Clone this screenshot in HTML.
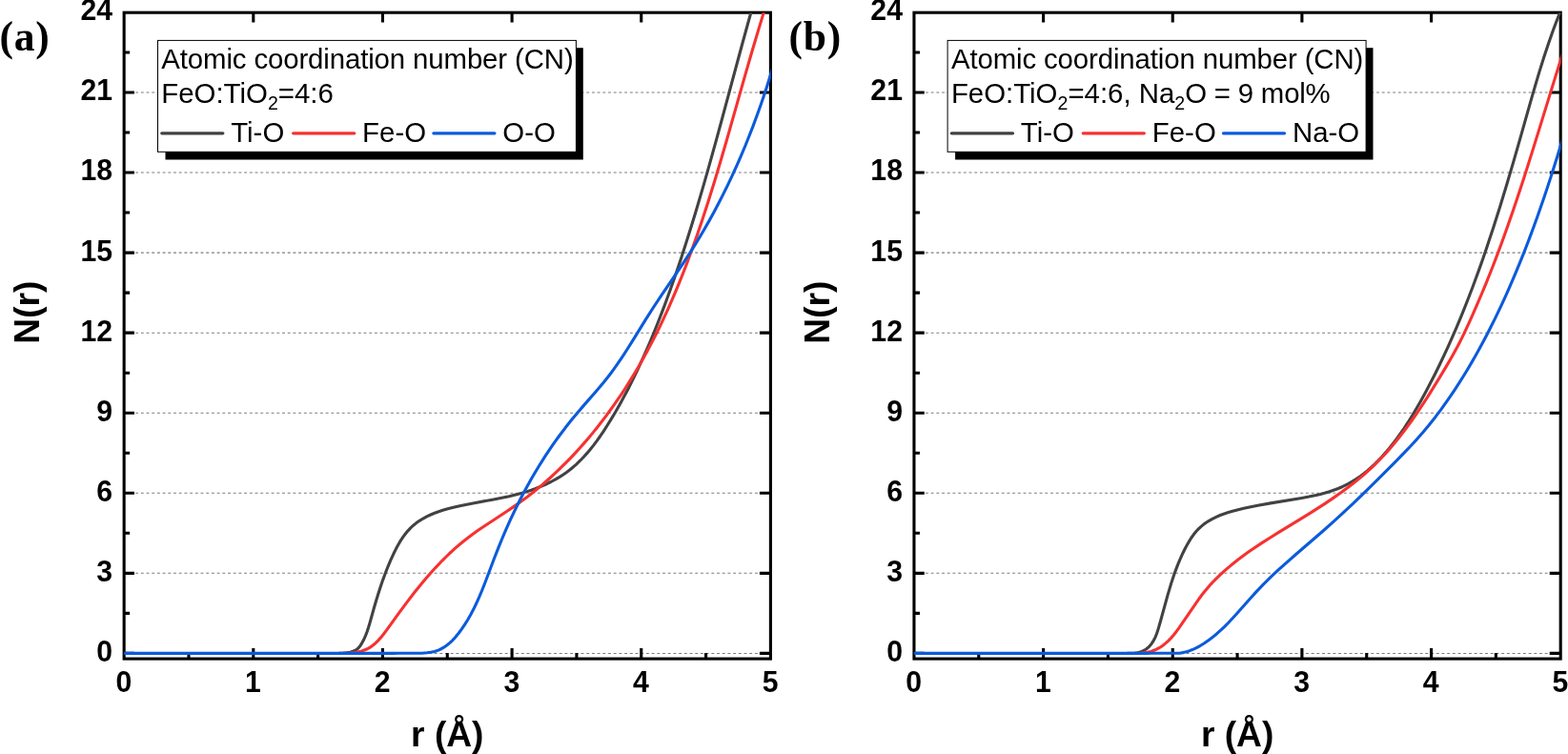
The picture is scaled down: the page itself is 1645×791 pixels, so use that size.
<!DOCTYPE html>
<html><head><meta charset="utf-8"><title>Atomic coordination number</title>
<style>
html,body{margin:0;padding:0;background:#fff;}
body{width:1645px;height:791px;overflow:hidden;}
svg{display:block;}
text{font-family:"Liberation Sans",sans-serif;fill:#000;}
.tk{font-size:30.2px;font-weight:bold;}
.ti{font-size:37.2px;font-weight:bold;}
.lg{font-size:29.4px;}
.pl{font-family:"Liberation Serif",serif;font-weight:bold;font-size:43.5px;}
</style></head><body>
<svg width="1645" height="791" viewBox="0 0 1645 791">
<rect width="1645" height="791" fill="#fff"/>

<g id="panel-a">
<line x1="130.15" x2="808.4" y1="685.40" y2="685.40" stroke="#7c7c7c" stroke-width="1.05" stroke-dasharray="2.9 2.8" stroke-dashoffset="-0.6"/>
<line x1="130.15" x2="808.4" y1="601.34" y2="601.34" stroke="#7c7c7c" stroke-width="1.05" stroke-dasharray="2.9 2.8" stroke-dashoffset="-0.6"/>
<line x1="130.15" x2="808.4" y1="517.28" y2="517.28" stroke="#7c7c7c" stroke-width="1.05" stroke-dasharray="2.9 2.8" stroke-dashoffset="-0.6"/>
<line x1="130.15" x2="808.4" y1="433.22" y2="433.22" stroke="#7c7c7c" stroke-width="1.05" stroke-dasharray="2.9 2.8" stroke-dashoffset="-0.6"/>
<line x1="130.15" x2="808.4" y1="349.16" y2="349.16" stroke="#7c7c7c" stroke-width="1.05" stroke-dasharray="2.9 2.8" stroke-dashoffset="-0.6"/>
<line x1="130.15" x2="808.4" y1="265.10" y2="265.10" stroke="#7c7c7c" stroke-width="1.05" stroke-dasharray="2.9 2.8" stroke-dashoffset="-0.6"/>
<line x1="130.15" x2="808.4" y1="181.04" y2="181.04" stroke="#7c7c7c" stroke-width="1.05" stroke-dasharray="2.9 2.8" stroke-dashoffset="-0.6"/>
<line x1="130.15" x2="808.4" y1="96.98" y2="96.98" stroke="#7c7c7c" stroke-width="1.05" stroke-dasharray="2.9 2.8" stroke-dashoffset="-0.6"/>
<rect x="173.5" y="50.2" width="438.3" height="117.3" fill="#000"/>
<rect x="165.5" y="42.4" width="438.9" height="116.9" fill="#fff" stroke="#000" stroke-width="1"/>
<text class="lg" letter-spacing="-0.123" transform="translate(169.3,72.4) scale(1,1.035)">Atomic coordination number (CN)</text>
<text class="lg" letter-spacing="0" transform="translate(169.3,108) scale(1,1.035)">FeO:TiO<tspan dy="7.2" font-size="19.6">2</tspan><tspan dy="-7.2">=4:6</tspan></text>
<line x1="169.8" x2="233.8" y1="139.85" y2="139.85" stroke="#424242" stroke-width="3.3" stroke-linecap="round"/>
<text class="lg" transform="translate(242.2,148.6) scale(1,1.035)">Ti-O</text>
<line x1="307.7" x2="371.7" y1="139.85" y2="139.85" stroke="#f73131" stroke-width="3.3" stroke-linecap="round"/>
<text class="lg" transform="translate(380.1,148.6) scale(1,1.035)">Fe-O</text>
<line x1="454.9" x2="518.9" y1="139.85" y2="139.85" stroke="#0b5bdc" stroke-width="3.3" stroke-linecap="round"/>
<text class="lg" transform="translate(527.3,148.6) scale(1,1.035)">O-O</text>
<path d="M130.15,685.40h10.8 M808.4,685.40h-11.5 M130.15,643.37h6 M130.15,601.34h10.8 M808.4,601.34h-11.5 M130.15,559.31h6 M130.15,517.28h10.8 M808.4,517.28h-11.5 M130.15,475.25h6 M130.15,433.22h10.8 M808.4,433.22h-11.5 M130.15,391.19h6 M130.15,349.16h10.8 M808.4,349.16h-11.5 M130.15,307.13h6 M130.15,265.10h10.8 M808.4,265.10h-11.5 M130.15,223.07h6 M130.15,181.04h10.8 M808.4,181.04h-11.5 M130.15,139.01h6 M130.15,96.98h10.8 M808.4,96.98h-11.5 M130.15,54.95h6 M197.98,691.1v-6 M265.80,691.1v-11 M265.80,13.2v10.4 M333.62,691.1v-6 M401.45,691.1v-11 M401.45,13.2v10.4 M469.27,691.1v-6 M537.10,691.1v-11 M537.10,13.2v10.4 M604.93,691.1v-6 M672.75,691.1v-11 M672.75,13.2v10.4 M740.58,691.1v-6" stroke="#000" stroke-width="3.1" fill="none"/>
<rect x="130.15" y="13.2" width="678.25" height="677.9" fill="none" stroke="#000" stroke-width="3.1"/>
<clipPath id="clip-a"><rect x="130.15" y="13.2" width="678.65" height="677.9"/></clipPath>
<g clip-path="url(#clip-a)" fill="none" stroke-width="3.1" stroke-linejoin="round" stroke-linecap="round">
<path d="M355.44,685.34 L359.91,685.15 L362.89,684.90 L364.38,684.71 L367.32,684.16 L368.77,683.78 L370.20,683.31 L371.59,682.76 L372.92,682.10 L374.17,681.34 L375.33,680.46 L376.37,679.44 L377.30,678.32 L378.15,677.11 L379.70,674.60 L381.12,672.01 L382.40,669.35 L383.58,666.63 L385.17,662.45 L386.13,659.61 L387.46,655.31 L392.32,638.04 L394.81,629.54 L396.96,622.51 L398.75,616.93 L401.59,608.60 L404.12,601.69 L406.82,594.79 L409.72,587.90 L412.85,581.02 L415.56,575.57 L418.48,570.25 L420.03,567.65 L421.66,565.12 L423.35,562.65 L425.13,560.26 L427.95,556.83 L430.97,553.63 L434.21,550.68 L436.49,548.85 L440.07,546.32 L443.83,544.01 L447.74,541.92 L451.79,540.02 L455.94,538.30 L460.18,536.74 L464.48,535.33 L468.82,534.05 L474.63,532.50 L478.98,531.45 L484.77,530.16 L494.88,528.15 L516.57,524.24 L525.29,522.56 L534.05,520.68 L542.80,518.53 L548.61,516.92 L552.94,515.61 L557.24,514.20 L561.49,512.69 L565.71,511.07 L569.86,509.33 L573.96,507.47 L577.99,505.49 L583.24,502.65 L587.07,500.38 L590.80,497.97 L594.43,495.44 L597.95,492.76 L601.36,489.96 L604.66,487.04 L608.90,482.97 L611.98,479.79 L615.93,475.40 L618.80,472.01 L622.51,467.37 L626.09,462.61 L629.55,457.74 L632.91,452.78 L636.17,447.76 L640.92,440.14 L645.51,432.44 L649.96,424.69 L654.97,415.56 L659.13,407.68 L663.82,398.41 L668.35,389.07 L672.74,379.67 L676.99,370.20 L681.70,359.31 L685.69,349.73 L690.13,338.71 L694.45,327.63 L698.64,316.50 L702.72,305.32 L707.18,292.69 L711.05,281.43 L714.82,270.14 L718.51,258.82 L722.58,246.07 L726.55,233.29 L730.44,220.48 L738.41,193.37 L744.51,171.92 L751.27,147.55 L758.31,121.72 L778.48,47.00 L784.80,24.03 L790.43,3.96" stroke="#424242"/>
<path d="M363.06,685.35 L367.45,685.07 L371.79,684.58 L376.04,683.82 L378.79,683.13 L380.15,682.73 L382.79,681.80 L384.08,681.26 L386.59,680.05 L388.99,678.62 L390.15,677.83 L392.39,676.09 L394.52,674.19 L396.56,672.14 L399.46,668.90 L402.21,665.54 L405.71,660.93 L418.32,643.37 L426.88,631.80 L434.78,621.56 L439.27,615.95 L442.91,611.51 L450.37,602.77 L457.10,595.31 L464.04,588.04 L468.11,583.99 L471.21,581.00 L477.56,575.18 L482.99,570.50 L488.57,565.98 L495.44,560.78 L501.29,556.60 L508.43,551.72 L530.12,537.46 L538.47,531.84 L546.68,526.05 L553.56,520.92 L561.42,514.73 L569.11,508.34 L576.62,501.74 L583.98,494.95 L588.12,490.98 L593.22,485.93 L598.24,480.80 L603.17,475.57 L608.03,470.27 L612.81,464.88 L617.50,459.41 L622.11,453.87 L626.64,448.25 L631.09,442.57 L635.46,436.83 L639.74,431.02 L643.94,425.15 L648.06,419.23 L652.09,413.26 L656.04,407.24 L660.66,399.95 L665.17,392.61 L669.56,385.20 L674.54,376.49 L678.69,368.96 L683.39,360.11 L687.96,351.20 L692.39,342.21 L696.69,333.16 L700.86,324.05 L704.92,314.88 L708.86,305.65 L712.70,296.38 L716.95,285.72 L720.57,276.34 L724.60,265.57 L730.89,247.96 L736.93,230.24 L743.16,211.04 L750.01,188.99 L755.40,171.02 L761.46,150.24 L781.52,79.63 L789.07,53.51 L796.80,27.58 L800.57,15.39 L803.98,4.60" stroke="#f73131"/>
<path d="M130.15,685.40 L412.21,685.40 L418.48,685.27 L442.87,685.26 L448.09,684.83 L451.94,684.27 L455.70,683.44 L458.12,682.71 L459.30,682.29 L460.47,681.82 L462.73,680.78 L463.82,680.20 L465.96,678.93 L469.02,676.79 L471.93,674.39 L474.68,671.76 L476.43,669.91 L478.13,668.00 L481.37,664.00 L484.42,659.87 L487.30,655.64 L490.68,650.24 L493.84,644.72 L496.80,639.09 L499.04,634.52 L501.18,629.90 L503.23,625.23 L505.21,620.51 L509.46,609.80 L518.51,585.78 L523.18,573.85 L526.09,566.75 L529.07,559.69 L532.13,552.68 L535.27,545.70 L539.05,537.63 L542.38,530.76 L546.39,522.81 L549.92,516.05 L554.17,508.23 L557.91,501.59 L561.76,495.00 L565.71,488.47 L569.09,483.07 L572.54,477.71 L578.94,468.18 L582.61,462.95 L586.34,457.76 L593.26,448.56 L599.60,440.53 L606.12,432.65 L611.96,425.87 L626.26,409.53 L633.64,400.76 L637.61,395.79 L640.70,391.75 L643.71,387.65 L647.39,382.47 L653.09,374.03 L658.62,365.47 L664.04,356.81 L677.46,335.07 L685.01,323.22 L694.20,309.40 L714.26,279.85 L719.20,272.42 L724.06,264.93 L728.81,257.38 L734.12,248.66 L738.66,240.97 L743.71,232.11 L748.63,223.16 L754.01,213.01 L758.66,203.91 L763.73,193.60 L768.10,184.36 L772.87,173.90 L777.47,163.37 L781.93,152.76 L785.75,143.29 L789.91,132.57 L793.92,121.80 L797.78,110.99 L801.49,100.13 L805.06,89.23 L808.48,78.29 L812.11,66.11" stroke="#0b5bdc"/>
</g>
<text class="tk" text-anchor="end" transform="translate(118.15,693.80) scale(1,1.04)">0</text>
<text class="tk" text-anchor="end" transform="translate(118.15,609.74) scale(1,1.04)">3</text>
<text class="tk" text-anchor="end" transform="translate(118.15,525.68) scale(1,1.04)">6</text>
<text class="tk" text-anchor="end" transform="translate(118.15,441.62) scale(1,1.04)">9</text>
<text class="tk" text-anchor="end" transform="translate(118.15,357.56) scale(1,1.04)">12</text>
<text class="tk" text-anchor="end" transform="translate(118.15,273.50) scale(1,1.04)">15</text>
<text class="tk" text-anchor="end" transform="translate(118.15,189.44) scale(1,1.04)">18</text>
<text class="tk" text-anchor="end" transform="translate(118.15,105.38) scale(1,1.04)">21</text>
<text class="tk" text-anchor="end" transform="translate(118.15,21.32) scale(1,1.04)">24</text>
<text class="tk" text-anchor="middle" transform="translate(129.85,725.6) scale(1,1.04)">0</text>
<text class="tk" text-anchor="middle" transform="translate(265.50,725.6) scale(1,1.04)">1</text>
<text class="tk" text-anchor="middle" transform="translate(401.15,725.6) scale(1,1.04)">2</text>
<text class="tk" text-anchor="middle" transform="translate(536.80,725.6) scale(1,1.04)">3</text>
<text class="tk" text-anchor="middle" transform="translate(672.45,725.6) scale(1,1.04)">4</text>
<text class="tk" text-anchor="middle" transform="translate(808.10,725.6) scale(1,1.04)">5</text>
<text class="ti" text-anchor="middle" x="469.3" y="782.5">r (Å)</text>
<text class="ti" text-anchor="middle" transform="translate(41.0,327.6) rotate(-90)">N(r)</text>
<text class="pl" letter-spacing="0.8" x="-0.5" y="53">(a)</text>
</g>
<g id="panel-b">
<line x1="958.95" x2="1637.2" y1="685.40" y2="685.40" stroke="#7c7c7c" stroke-width="1.05" stroke-dasharray="2.9 2.8" stroke-dashoffset="-0.6"/>
<line x1="958.95" x2="1637.2" y1="601.34" y2="601.34" stroke="#7c7c7c" stroke-width="1.05" stroke-dasharray="2.9 2.8" stroke-dashoffset="-0.6"/>
<line x1="958.95" x2="1637.2" y1="517.28" y2="517.28" stroke="#7c7c7c" stroke-width="1.05" stroke-dasharray="2.9 2.8" stroke-dashoffset="-0.6"/>
<line x1="958.95" x2="1637.2" y1="433.22" y2="433.22" stroke="#7c7c7c" stroke-width="1.05" stroke-dasharray="2.9 2.8" stroke-dashoffset="-0.6"/>
<line x1="958.95" x2="1637.2" y1="349.16" y2="349.16" stroke="#7c7c7c" stroke-width="1.05" stroke-dasharray="2.9 2.8" stroke-dashoffset="-0.6"/>
<line x1="958.95" x2="1637.2" y1="265.10" y2="265.10" stroke="#7c7c7c" stroke-width="1.05" stroke-dasharray="2.9 2.8" stroke-dashoffset="-0.6"/>
<line x1="958.95" x2="1637.2" y1="181.04" y2="181.04" stroke="#7c7c7c" stroke-width="1.05" stroke-dasharray="2.9 2.8" stroke-dashoffset="-0.6"/>
<line x1="958.95" x2="1637.2" y1="96.98" y2="96.98" stroke="#7c7c7c" stroke-width="1.05" stroke-dasharray="2.9 2.8" stroke-dashoffset="-0.6"/>
<rect x="1002.1" y="50.2" width="438.4" height="117.3" fill="#000"/>
<rect x="994.1" y="42.4" width="439.0" height="116.9" fill="#fff" stroke="#000" stroke-width="1"/>
<text class="lg" letter-spacing="-0.123" transform="translate(997.9,72.4) scale(1,1.035)">Atomic coordination number (CN)</text>
<text class="lg" letter-spacing="0" transform="translate(997.9,108) scale(1,1.035)">FeO:TiO<tspan dy="7.2" font-size="19.6">2</tspan><tspan dy="-7.2">=4:6, Na</tspan><tspan dy="7.2" font-size="19.6">2</tspan><tspan dy="-7.2" letter-spacing="-0.2">O = 9 mol%</tspan></text>
<line x1="998.4" x2="1062.5" y1="139.85" y2="139.85" stroke="#424242" stroke-width="3.3" stroke-linecap="round"/>
<text class="lg" transform="translate(1070.8,148.6) scale(1,1.035)">Ti-O</text>
<line x1="1136.3" x2="1200.3" y1="139.85" y2="139.85" stroke="#f73131" stroke-width="3.3" stroke-linecap="round"/>
<text class="lg" transform="translate(1208.8,148.6) scale(1,1.035)">Fe-O</text>
<line x1="1283.5" x2="1347.5" y1="139.85" y2="139.85" stroke="#0b5bdc" stroke-width="3.3" stroke-linecap="round"/>
<text class="lg" transform="translate(1356.0,148.6) scale(1,1.035)">Na-O</text>
<path d="M958.95,685.40h10.8 M1637.2,685.40h-11.5 M958.95,643.37h6 M958.95,601.34h10.8 M1637.2,601.34h-11.5 M958.95,559.31h6 M958.95,517.28h10.8 M1637.2,517.28h-11.5 M958.95,475.25h6 M958.95,433.22h10.8 M1637.2,433.22h-11.5 M958.95,391.19h6 M958.95,349.16h10.8 M1637.2,349.16h-11.5 M958.95,307.13h6 M958.95,265.10h10.8 M1637.2,265.10h-11.5 M958.95,223.07h6 M958.95,181.04h10.8 M1637.2,181.04h-11.5 M958.95,139.01h6 M958.95,96.98h10.8 M1637.2,96.98h-11.5 M958.95,54.95h6 M1026.78,691.1v-6 M1094.60,691.1v-11 M1094.60,13.2v10.4 M1162.43,691.1v-6 M1230.25,691.1v-11 M1230.25,13.2v10.4 M1298.08,691.1v-6 M1365.90,691.1v-11 M1365.90,13.2v10.4 M1433.73,691.1v-6 M1501.55,691.1v-11 M1501.55,13.2v10.4 M1569.38,691.1v-6" stroke="#000" stroke-width="3.1" fill="none"/>
<rect x="958.95" y="13.2" width="678.25" height="677.9" fill="none" stroke="#000" stroke-width="3.1"/>
<clipPath id="clip-b"><rect x="958.95" y="13.2" width="678.65" height="677.9"/></clipPath>
<g clip-path="url(#clip-b)" fill="none" stroke-width="3.1" stroke-linejoin="round" stroke-linecap="round">
<path d="M1182.68,685.26 L1190.45,685.25 L1193.43,684.73 L1194.87,684.37 L1196.29,683.94 L1197.66,683.44 L1199.00,682.86 L1200.29,682.21 L1201.54,681.48 L1202.74,680.68 L1203.88,679.81 L1204.96,678.86 L1205.99,677.84 L1206.95,676.76 L1207.87,675.61 L1209.53,673.16 L1211.01,670.54 L1212.30,667.79 L1213.43,664.96 L1214.43,662.06 L1215.34,659.13 L1217.04,653.23 L1225.16,623.93 L1228.60,612.39 L1230.92,605.25 L1232.90,599.59 L1235.55,592.59 L1237.84,587.05 L1240.95,580.20 L1243.66,574.79 L1246.59,569.46 L1248.15,566.84 L1249.79,564.27 L1252.42,560.56 L1255.29,557.06 L1256.31,555.95 L1258.44,553.83 L1259.54,552.81 L1261.84,550.87 L1264.23,549.05 L1267.98,546.55 L1271.89,544.31 L1275.94,542.31 L1280.10,540.53 L1284.36,538.94 L1288.69,537.52 L1293.07,536.24 L1298.97,534.71 L1304.87,533.31 L1312.23,531.72 L1319.60,530.26 L1332.87,527.89 L1365.70,522.44 L1373.23,521.04 L1380.73,519.47 L1385.19,518.41 L1389.61,517.25 L1393.98,515.98 L1396.86,515.06 L1401.12,513.56 L1403.93,512.48 L1408.06,510.72 L1410.76,509.46 L1414.74,507.41 L1418.63,505.19 L1422.43,502.82 L1427.35,499.42 L1430.94,496.72 L1434.44,493.88 L1437.86,490.92 L1442.30,486.81 L1445.53,483.61 L1449.72,479.20 L1453.78,474.65 L1457.71,469.99 L1461.51,465.22 L1465.19,460.39 L1468.75,455.48 L1473.06,449.26 L1477.21,442.95 L1482.02,435.27 L1485.88,428.79 L1490.38,420.94 L1495.46,411.68 L1500.40,402.35 L1505.21,392.94 L1509.89,383.47 L1514.45,373.94 L1518.89,364.34 L1523.21,354.69 L1528.01,343.60 L1532.10,333.84 L1536.65,322.64 L1540.53,312.79 L1544.84,301.49 L1548.53,291.57 L1552.13,281.62 L1555.65,271.65 L1559.58,260.22 L1566.71,238.72 L1574.01,215.69 L1580.62,194.02 L1587.89,169.38 L1594.15,147.58 L1605.69,106.83 L1610.31,90.85 L1615.08,74.93 L1619.59,60.52 L1624.82,44.77 L1629.86,30.56 L1632.49,23.50 L1635.22,16.48 L1638.03,9.49 L1640.36,3.92" stroke="#424242"/>
<path d="M1190.85,685.33 L1195.06,685.28 L1197.85,685.08 L1200.62,684.77 L1204.71,684.06 L1207.37,683.39 L1208.68,682.99 L1211.24,682.06 L1212.49,681.53 L1213.72,680.95 L1216.11,679.66 L1217.27,678.95 L1219.53,677.43 L1222.78,674.90 L1225.84,672.11 L1228.73,669.12 L1231.44,665.95 L1234.01,662.67 L1236.47,659.31 L1238.86,655.90 L1256.74,629.81 L1260.78,624.26 L1264.18,619.92 L1268.69,614.65 L1273.43,609.55 L1278.38,604.64 L1283.47,599.90 L1286.58,597.14 L1290.79,593.56 L1293.99,590.94 L1298.31,587.53 L1306.00,581.77 L1310.47,578.58 L1314.98,575.45 L1322.97,570.12 L1332.23,564.19 L1341.59,558.38 L1372.35,539.58 L1381.78,533.65 L1389.96,528.36 L1399.19,522.16 L1407.14,516.58 L1414.94,510.83 L1422.56,504.89 L1426.82,501.40 L1431.02,497.83 L1435.13,494.19 L1438.17,491.40 L1441.16,488.56 L1445.07,484.71 L1448.90,480.77 L1452.65,476.76 L1456.33,472.68 L1459.94,468.53 L1463.47,464.31 L1466.95,460.03 L1473.71,451.31 L1477.01,446.87 L1481.05,441.26 L1486.59,433.30 L1491.99,425.23 L1497.26,417.08 L1503.17,407.69 L1510.40,395.88 L1518.20,382.85 L1523.04,374.52 L1527.72,366.12 L1530.93,360.04 L1534.03,353.89 L1537.01,347.68 L1540.49,340.17 L1545.01,330.09 L1550.00,318.69 L1554.33,308.51 L1558.58,298.29 L1562.73,288.03 L1566.78,277.74 L1570.73,267.42 L1575.07,255.76 L1579.31,244.07 L1583.45,232.35 L1587.51,220.59 L1591.92,207.50 L1599.24,185.17 L1607.19,160.15 L1614.57,136.39 L1632.06,79.59 L1640.74,51.91" stroke="#f73131"/>
<path d="M958.95,685.40 L1203.24,685.40 L1208.04,685.24 L1237.49,685.20 L1241.06,684.62 L1243.41,684.08 L1245.72,683.43 L1248.01,682.67 L1250.27,681.82 L1252.49,680.86 L1254.69,679.83 L1258.99,677.53 L1263.15,674.98 L1268.16,671.53 L1272.98,667.83 L1276.70,664.72 L1281.21,660.67 L1284.72,657.31 L1289.01,652.99 L1293.20,648.55 L1297.32,644.03 L1311.95,627.49 L1317.71,621.14 L1321.06,617.57 L1325.31,613.18 L1333.12,605.47 L1341.10,597.96 L1350.13,589.80 L1360.20,580.97 L1380.51,563.49 L1389.71,555.50 L1398.81,547.39 L1407.82,539.16 L1419.40,528.31 L1432.59,515.60 L1446.51,501.89 L1462.04,486.35 L1472.29,475.92 L1479.86,467.99 L1486.46,460.83 L1492.88,453.51 L1499.12,446.03 L1505.91,437.43 L1511.77,429.64 L1518.16,420.72 L1522.31,414.69 L1527.04,407.59 L1531.02,401.45 L1535.55,394.22 L1539.36,387.97 L1543.70,380.62 L1547.95,373.21 L1552.10,365.75 L1556.16,358.24 L1560.13,350.68 L1564.02,343.08 L1568.36,334.34 L1572.07,326.66 L1576.22,317.83 L1579.77,310.07 L1583.74,301.16 L1587.61,292.21 L1591.40,283.22 L1595.10,274.20 L1598.72,265.14 L1602.25,256.04 L1605.72,246.92 L1609.10,237.77 L1612.83,227.44 L1616.47,217.09 L1620.04,206.71 L1626.94,185.87 L1633.93,163.80 L1641.02,140.50" stroke="#0b5bdc"/>
</g>
<text class="tk" text-anchor="end" transform="translate(946.95,693.80) scale(1,1.04)">0</text>
<text class="tk" text-anchor="end" transform="translate(946.95,609.74) scale(1,1.04)">3</text>
<text class="tk" text-anchor="end" transform="translate(946.95,525.68) scale(1,1.04)">6</text>
<text class="tk" text-anchor="end" transform="translate(946.95,441.62) scale(1,1.04)">9</text>
<text class="tk" text-anchor="end" transform="translate(946.95,357.56) scale(1,1.04)">12</text>
<text class="tk" text-anchor="end" transform="translate(946.95,273.50) scale(1,1.04)">15</text>
<text class="tk" text-anchor="end" transform="translate(946.95,189.44) scale(1,1.04)">18</text>
<text class="tk" text-anchor="end" transform="translate(946.95,105.38) scale(1,1.04)">21</text>
<text class="tk" text-anchor="end" transform="translate(946.95,21.32) scale(1,1.04)">24</text>
<text class="tk" text-anchor="middle" transform="translate(958.65,725.6) scale(1,1.04)">0</text>
<text class="tk" text-anchor="middle" transform="translate(1094.30,725.6) scale(1,1.04)">1</text>
<text class="tk" text-anchor="middle" transform="translate(1229.95,725.6) scale(1,1.04)">2</text>
<text class="tk" text-anchor="middle" transform="translate(1365.60,725.6) scale(1,1.04)">3</text>
<text class="tk" text-anchor="middle" transform="translate(1501.25,725.6) scale(1,1.04)">4</text>
<text class="tk" text-anchor="middle" transform="translate(1636.90,725.6) scale(1,1.04)">5</text>
<text class="ti" text-anchor="middle" x="1298.1" y="782.5">r (Å)</text>
<text class="ti" text-anchor="middle" transform="translate(869.8,327.6) rotate(-90)">N(r)</text>
<text class="pl" letter-spacing="0.8" x="827.5" y="53">(b)</text>
</g>
</svg>
</body></html>
